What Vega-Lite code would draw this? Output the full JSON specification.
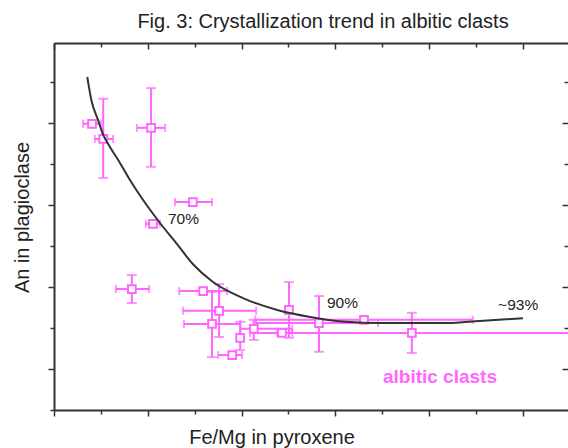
{
  "$schema": "https://vega.github.io/schema/vega-lite/v6.json",
  "width": 514,
  "height": 367,
  "autosize": {"type": "none"},
  "padding": {"left": 54, "top": 43, "right": 0, "bottom": 38},
  "title": {"text": "Fig. 3: Crystallization trend in albitic clasts", "fontSize": 20, "fontWeight": "normal", "color": "#222222", "anchor": "middle", "dx": 12, "offset": 10},
  "config": {
    "font": "Liberation Sans",
    "view": {"stroke": null},
    "axis": {"grid": false, "labels": false, "domainColor": "#333333", "domainWidth": 2, "tickColor": "#333333", "tickWidth": 1.5, "titleFontSize": 20, "titleFontWeight": "normal", "titleColor": "#222222"}
  },
  "datasets": {
    "points": [
      {"cx": 0.81, "cy": 6.98, "xmin": 0.62, "xmax": 1.00, "ymin": 6.98, "ymax": 6.98},
      {"cx": 1.05, "cy": 6.61, "xmin": 0.87, "xmax": 1.26, "ymin": 5.66, "ymax": 7.59},
      {"cx": 2.07, "cy": 6.88, "xmin": 1.77, "xmax": 2.37, "ymin": 5.93, "ymax": 7.85},
      {"cx": 2.96, "cy": 5.07, "xmin": 2.58, "xmax": 3.37, "ymin": 5.07, "ymax": 5.07},
      {"cx": 2.11, "cy": 4.54, "xmin": 1.96, "xmax": 2.26, "ymin": 4.54, "ymax": 4.54},
      {"cx": 1.66, "cy": 2.95, "xmin": 1.32, "xmax": 2.03, "ymin": 2.61, "ymax": 3.29},
      {"cx": 3.18, "cy": 2.90, "xmin": 2.67, "xmax": 3.69, "ymin": 2.90, "ymax": 2.90},
      {"cx": 3.52, "cy": 2.42, "xmin": 2.75, "xmax": 4.31, "ymin": 1.78, "ymax": 3.07},
      {"cx": 3.37, "cy": 2.10, "xmin": 2.77, "xmax": 3.97, "ymin": 1.29, "ymax": 2.88},
      {"cx": 3.97, "cy": 1.76, "xmin": 3.97, "xmax": 3.97, "ymin": 1.46, "ymax": 2.15},
      {"cx": 3.80, "cy": 1.34, "xmin": 3.50, "xmax": 4.01, "ymin": 1.34, "ymax": 1.34},
      {"cx": 4.26, "cy": 1.98, "xmin": 3.97, "xmax": 5.08, "ymin": 1.71, "ymax": 2.20},
      {"cx": 4.86, "cy": 1.88, "xmin": 4.76, "xmax": 5.08, "ymin": 1.88, "ymax": 1.88},
      {"cx": 5.01, "cy": 2.44, "xmin": 5.01, "xmax": 5.01, "ymin": 1.76, "ymax": 3.12},
      {"cx": 5.65, "cy": 2.12, "xmin": 4.31, "xmax": 6.91, "ymin": 1.42, "ymax": 2.78},
      {"cx": 6.61, "cy": 2.20, "xmin": 4.29, "xmax": 8.93, "ymin": 2.20, "ymax": 2.20},
      {"cx": 7.63, "cy": 1.88, "xmin": 4.18, "xmax": 11.22, "ymin": 1.39, "ymax": 2.37}
    ],
    "curve": [
      {"x": 0.71, "y": 8.12}, {"x": 0.80, "y": 7.54}, {"x": 0.94, "y": 7.07}, {"x": 1.05, "y": 6.71},
      {"x": 1.19, "y": 6.42}, {"x": 1.41, "y": 6.02}, {"x": 1.62, "y": 5.61}, {"x": 1.90, "y": 5.12},
      {"x": 2.26, "y": 4.56}, {"x": 2.62, "y": 4.05}, {"x": 2.96, "y": 3.56}, {"x": 3.39, "y": 3.12},
      {"x": 4.03, "y": 2.73}, {"x": 4.76, "y": 2.44}, {"x": 5.46, "y": 2.27}, {"x": 6.23, "y": 2.15},
      {"x": 6.95, "y": 2.12}, {"x": 8.38, "y": 2.12}, {"x": 9.08, "y": 2.17}, {"x": 10.00, "y": 2.24}
    ],
    "labels": [
      {"x": 2.43, "y": 4.66, "label": "70%"},
      {"x": 5.82, "y": 2.61, "label": "90%"},
      {"x": 9.47, "y": 2.56, "label": "~93%"}
    ],
    "tag": [
      {"x": 8.23, "y": 0.80, "label": "albitic clasts"}
    ]
  },
  "layer": [
    {
      "data": {"name": "points"},
      "transform": [{"filter": "datum.xmax > datum.xmin"}],
      "mark": {"type": "rule", "color": "#ff66ff", "strokeWidth": 2, "clip": true},
      "encoding": {
        "x": {"field": "xmin", "type": "quantitative", "scale": {"domain": [0, 10.96], "nice": false, "zero": false},
              "axis": {"orient": "top", "title": null, "values": [0,1,2,3,4,5,6,7,8,9,10], "domain": true,
                       "tickSize": {"condition": {"test": "datum.value % 2 === 0", "value": -6}, "value": -4}}},
        "x2": {"field": "xmax"},
        "y": {"field": "cy", "type": "quantitative", "scale": {"domain": [0, 8.95], "nice": false, "zero": false},
              "axis": {"orient": "right", "title": null, "values": [1,2,3,4,5,6,7,8], "domain": false,
                       "tickSize": {"condition": {"test": "datum.value % 2 === 1", "value": -6}, "value": -4}}}
      }
    },
    {
      "data": {"name": "points"},
      "transform": [{"filter": "datum.xmax > datum.xmin"}],
      "mark": {"type": "tick", "orient": "vertical", "color": "#ff66ff", "size": 8, "thickness": 2, "clip": true},
      "encoding": {
        "x": {"field": "xmin", "type": "quantitative", "scale": {"domain": [0, 10.96], "nice": false, "zero": false}, "axis": null},
        "y": {"field": "cy", "type": "quantitative", "scale": {"domain": [0, 8.95], "nice": false, "zero": false}, "axis": null}
      }
    },
    {
      "data": {"name": "points"},
      "transform": [{"filter": "datum.xmax > datum.xmin"}],
      "mark": {"type": "tick", "orient": "vertical", "color": "#ff66ff", "size": 8, "thickness": 2, "clip": true},
      "encoding": {
        "x": {"field": "xmax", "type": "quantitative", "scale": {"domain": [0, 10.96], "nice": false, "zero": false}, "axis": null},
        "y": {"field": "cy", "type": "quantitative", "scale": {"domain": [0, 8.95], "nice": false, "zero": false}, "axis": null}
      }
    },
    {
      "data": {"name": "points"},
      "transform": [{"filter": "datum.ymax > datum.ymin"}],
      "mark": {"type": "rule", "color": "#ff66ff", "strokeWidth": 2, "clip": true},
      "encoding": {
        "x": {"field": "cx", "type": "quantitative", "scale": {"domain": [0, 10.96], "nice": false, "zero": false}, "axis": null},
        "y": {"field": "ymin", "type": "quantitative", "scale": {"domain": [0, 8.95], "nice": false, "zero": false}, "axis": null},
        "y2": {"field": "ymax"}
      }
    },
    {
      "data": {"name": "points"},
      "transform": [{"filter": "datum.ymax > datum.ymin"}],
      "mark": {"type": "tick", "orient": "horizontal", "color": "#ff66ff", "size": 10, "thickness": 2, "clip": true},
      "encoding": {
        "x": {"field": "cx", "type": "quantitative", "scale": {"domain": [0, 10.96], "nice": false, "zero": false}, "axis": null},
        "y": {"field": "ymin", "type": "quantitative", "scale": {"domain": [0, 8.95], "nice": false, "zero": false}, "axis": null}
      }
    },
    {
      "data": {"name": "points"},
      "transform": [{"filter": "datum.ymax > datum.ymin"}],
      "mark": {"type": "tick", "orient": "horizontal", "color": "#ff66ff", "size": 10, "thickness": 2, "clip": true},
      "encoding": {
        "x": {"field": "cx", "type": "quantitative", "scale": {"domain": [0, 10.96], "nice": false, "zero": false}, "axis": null},
        "y": {"field": "ymax", "type": "quantitative", "scale": {"domain": [0, 8.95], "nice": false, "zero": false}, "axis": null}
      }
    },
    {
      "data": {"name": "points"},
      "mark": {"type": "point", "shape": "square", "size": 60, "filled": true, "fill": "white", "stroke": "#ff66ff", "strokeWidth": 2, "opacity": 1},
      "encoding": {
        "x": {"field": "cx", "type": "quantitative", "scale": {"domain": [0, 10.96], "nice": false, "zero": false}, "axis": null},
        "y": {"field": "cy", "type": "quantitative", "scale": {"domain": [0, 8.95], "nice": false, "zero": false}, "axis": null}
      }
    },
    {
      "data": {"name": "curve"},
      "mark": {"type": "line", "color": "#333333", "strokeWidth": 2, "interpolate": "monotone"},
      "encoding": {
        "x": {"field": "x", "type": "quantitative", "scale": {"domain": [0, 10.96], "nice": false, "zero": false},
              "axis": {"orient": "bottom", "title": "Fe/Mg in pyroxene", "values": [0,1,2,3,4,5,6,7,8,9,10],
                       "tickSize": {"condition": {"test": "datum.value % 2 === 0", "value": 6}, "value": 4},
                       "titleX": 217.5, "titleY": 33, "titleAlign": "center", "titleBaseline": "alphabetic"}},
        "y": {"field": "y", "type": "quantitative", "scale": {"domain": [0, 8.95], "nice": false, "zero": false},
              "axis": {"orient": "left", "title": "An in plagioclase", "values": [0,1,2,3,4,5,6,7,8],
                       "tickSize": {"condition": {"test": "datum.value % 2 === 1", "value": 6}, "value": 4},
                       "titleX": -25.5, "titleY": 174, "titleAngle": 270, "titleAlign": "center", "titleBaseline": "alphabetic"}}
      }
    },
    {
      "data": {"name": "labels"},
      "mark": {"type": "text", "align": "left", "baseline": "middle", "fontSize": 15.5, "color": "#222222"},
      "encoding": {
        "x": {"field": "x", "type": "quantitative", "scale": {"domain": [0, 10.96], "nice": false, "zero": false}, "axis": null},
        "y": {"field": "y", "type": "quantitative", "scale": {"domain": [0, 8.95], "nice": false, "zero": false}, "axis": null},
        "text": {"field": "label"}
      }
    },
    {
      "data": {"name": "tag"},
      "mark": {"type": "text", "align": "center", "baseline": "middle", "fontSize": 19, "fontWeight": "bold", "color": "#ff66ff"},
      "encoding": {
        "x": {"field": "x", "type": "quantitative", "scale": {"domain": [0, 10.96], "nice": false, "zero": false}, "axis": null},
        "y": {"field": "y", "type": "quantitative", "scale": {"domain": [0, 8.95], "nice": false, "zero": false}, "axis": null},
        "text": {"field": "label"}
      }
    }
  ],
  "resolve": {"axis": {"x": "independent", "y": "independent"}}
}
